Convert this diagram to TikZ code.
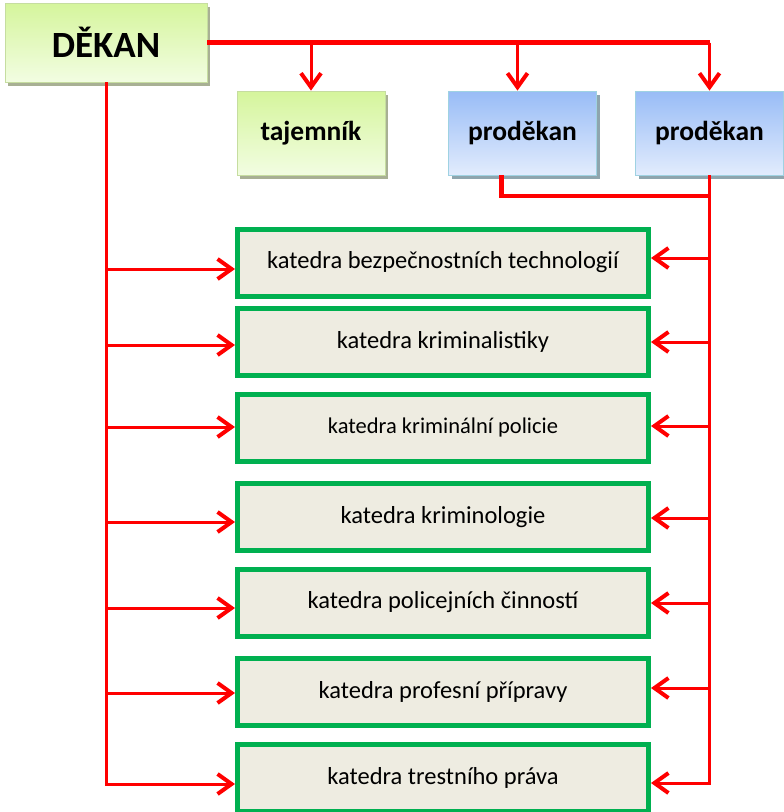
\documentclass[tikz,border=0pt]{standalone}
\usepackage{fontspec}
\setmainfont{Carlito}
\usetikzlibrary{arrows.meta, shadows}

\definecolor{cara}{HTML}{FF0000}
\definecolor{zelenaT}{HTML}{D5F59C}
\definecolor{zelenaB}{HTML}{F2FDE2}
\definecolor{zelenaL}{HTML}{C6DDA0}
\definecolor{zelenaS}{HTML}{A8B094}
\definecolor{modraT}{HTML}{98BCF6}
\definecolor{modraB}{HTML}{E2ECFD}
\definecolor{modraL}{HTML}{9FD2E2}
\definecolor{modraS}{HTML}{8EA5AE}
\definecolor{katedraR}{HTML}{00B050}
\definecolor{katedraF}{HTML}{EEECE1}

\tikzset{
  vedeni/.style={draw=zelenaL, line width=0.8pt, top color=zelenaT, bottom color=zelenaB,
    drop shadow={shadow xshift=3pt, shadow yshift=-4pt, fill=zelenaS, opacity=1},
    font=\bfseries\fontsize{27.5}{30}\selectfont, inner sep=0pt},
  prodekan/.style={draw=modraL, line width=0.8pt, top color=modraT, bottom color=modraB,
    drop shadow={shadow xshift=3pt, shadow yshift=-4pt, fill=modraS, opacity=1},
    font=\bfseries\fontsize{27.5}{30}\selectfont, inner sep=0pt,
    minimum width=148pt, minimum height=84pt},
  katedra/.style={draw=katedraR, line width=5pt, fill=katedraF,
    minimum width=411pt, minimum height=67pt, inner sep=0pt,
    font=\fontsize{24.5}{27}\selectfont},
  spoj/.style={draw=cara, line width=3pt},
  silny/.style={draw=cara, line width=4.5pt},
  sipka/.style={spoj, -{Straight Barb[length=14pt, width=20pt, line width=4pt]}}
}

\begin{document}
\begin{tikzpicture}[x=1pt, y=-1pt]
  \useasboundingbox (0,0) rectangle (784,812);

  % vedeni fakulty
  \node [vedeni, minimum width=202pt, minimum height=79pt, font=\bfseries\fontsize{37}{40}\selectfont] (dek) at (106,42.5) {DĚKAN};
  \node [vedeni, minimum width=148pt, minimum height=84pt] (taj) at (311,133) {tajemník};
  \node [prodekan] (pd1) at (522.5,133) {proděkan};
  \node [prodekan] (pd2) at (709.5,133) {proděkan};

  % katedry
  \node [katedra] (k1) at (443,262.5) {katedra bezpečnostních technologií};
  \node [katedra] (k2) at (443,342) {katedra kriminalistiky};
  \node [katedra, font=\fontsize{22.5}{25}\selectfont] (k3) at (443,427.5) {katedra kriminální policie};
  \node [katedra] (k4) at (443,517) {katedra kriminologie};
  \node [katedra] (k5) at (443,602.5) {katedra policejních činností};
  \node [katedra] (k6) at (443,692) {katedra profesní přípravy};
  \node [katedra] (k7) at (443,777.5) {katedra trestního práva};

  % spojnice od dekana
  \draw [silny] (dek.east) -- (pd2.north |- dek.east);
  \draw [sipka] (taj.north |- dek.east) -- (taj.north);
  \draw [sipka] ([xshift=-5pt]pd1.north |- dek.east) -- ([xshift=-5pt]pd1.north);
  \draw [sipka] (pd2.north |- dek.east) -- (pd2.north);
  \draw [sipka] (dek.south) |- (k7.west |- 0,784);

  % spojnice od proděkanů
  \draw [silny] ([xshift=-21pt]pd1.south) |- (pd2.south |- 0,196);
  \draw [sipka] (pd2.south) |- (k7.east |- 0,783);

  \foreach \k/\yl/\yr in {k1/269/258, k2/345/342, k3/427/426, k4/522/518, k5/608/603, k6/693/688}{
    \draw [sipka] (dek.south |- 0,\yl) -- (\k.west |- 0,\yl);
    \draw [sipka] (pd2.south |- 0,\yr) -- (\k.east |- 0,\yr);
  }
\end{tikzpicture}
\end{document}
